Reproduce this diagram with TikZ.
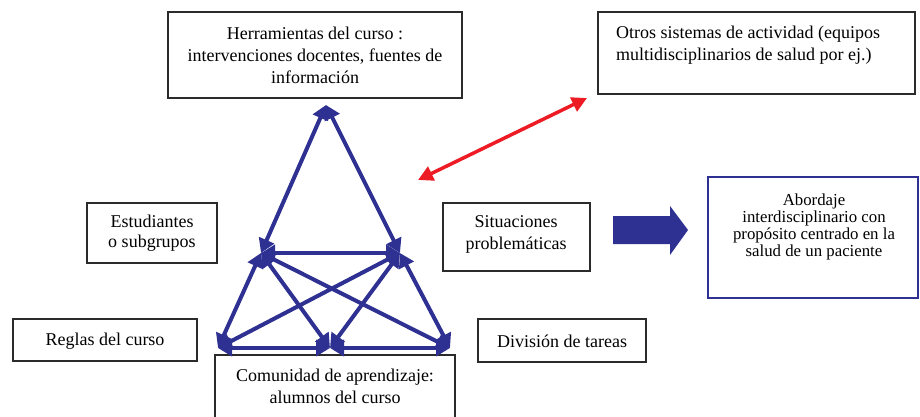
\documentclass[tikz,border=0pt]{standalone}
\usepackage{fontspec}
\setmainfont{Liberation Serif}
\usetikzlibrary{arrows.meta}
\definecolor{tblue}{HTML}{2E3192}
\definecolor{tred}{HTML}{ED1C24}
\definecolor{tgray}{HTML}{2B2B2B}
\begin{document}
\begin{tikzpicture}[x=1pt,y=-1pt,
  box/.style={draw=tgray,line width=1.6pt,fill=white},
  txt/.style={font=\fontsize{18}{22}\selectfont,align=center,inner sep=0pt},
  link/.style={draw=tblue,line width=4pt,{Triangle[length=14pt,width=16pt]}-{Triangle[length=14pt,width=16pt]}},
  redlink/.style={draw=tred,line width=3.5pt,{Triangle[length=15pt,width=15pt]}-{Triangle[length=15pt,width=15pt]}}]
\useasboundingbox (0,0) rectangle (920,417);
% boxes
\draw[box] (168,12) rectangle (462,98);
\node[txt] (herr) at (315,55) {Herramientas del curso :\\intervenciones docentes, fuentes de\\información};
\draw[box] (598,12) rectangle (915,94);
\node[txt,anchor=base west,align=left] (otros) at (616,61) {Otros sistemas de actividad (equipos\\multidisciplinarios de salud por ej.)};
\draw[box] (87,203) rectangle (217,263);
\node[txt,font=\fontsize{18}{20}\selectfont] (est) at (152,233) {Estudiantes\\o subgrupos};
\draw[box] (443,203) rectangle (590,271);
\node[txt] (sit) at (516,234) {Situaciones\\problemáticas};
\draw[box] (13,319) rectangle (197,361);
\node[txt] (reg) at (105,341) {Reglas del curso};
\draw[box] (478,319) rectangle (646,362);
\node[txt] (div) at (562,341) {División de tareas};
\draw[box] (215,355) rectangle (455,430);
\node[txt] (com) at (335,386) {Comunidad de aprendizaje:\\alumnos del curso};
\draw[draw=tblue,line width=2.8pt] (708,177) rectangle (918,298);
\node[txt,font=\fontsize{16.8}{16.8}\selectfont] (abo) at (814,227) {Abordaje\\interdisciplinario con\\propósito centrado en la\\salud de un paciente};
% block arrow
\fill[tblue] (613,216) -- (670,216) -- (670,206) -- (688,230) -- (670,255) -- (670,244) -- (613,244) -- cycle;
% triangle
\coordinate (T) at (326,105);
\coordinate (ML) at (261,253);
\coordinate (MR) at (400,253);
\coordinate (BL) at (218,348);
\coordinate (BM) at (330,348);
\coordinate (BR) at (450,348);
\draw[link] (ML) -- (T);
\draw[link] (MR) -- (T);
\draw[link] (ML) -- (MR);
\draw[link] (ML) -- (BL);
\draw[link] (MR) -- (BR);
\draw[link] (ML) -- (BM);
\draw[link] (ML) -- (BR);
\draw[link] (MR) -- (BL);
\draw[link] (MR) -- (BM);
\draw[link] (BL) -- (BM);
\draw[link] (BM) -- (BR);
% red arrow
\coordinate (r1) at (418,180);
\coordinate (r2) at (587,98);
\draw[redlink] (r1) -- (r2);
\end{tikzpicture}
\end{document}
